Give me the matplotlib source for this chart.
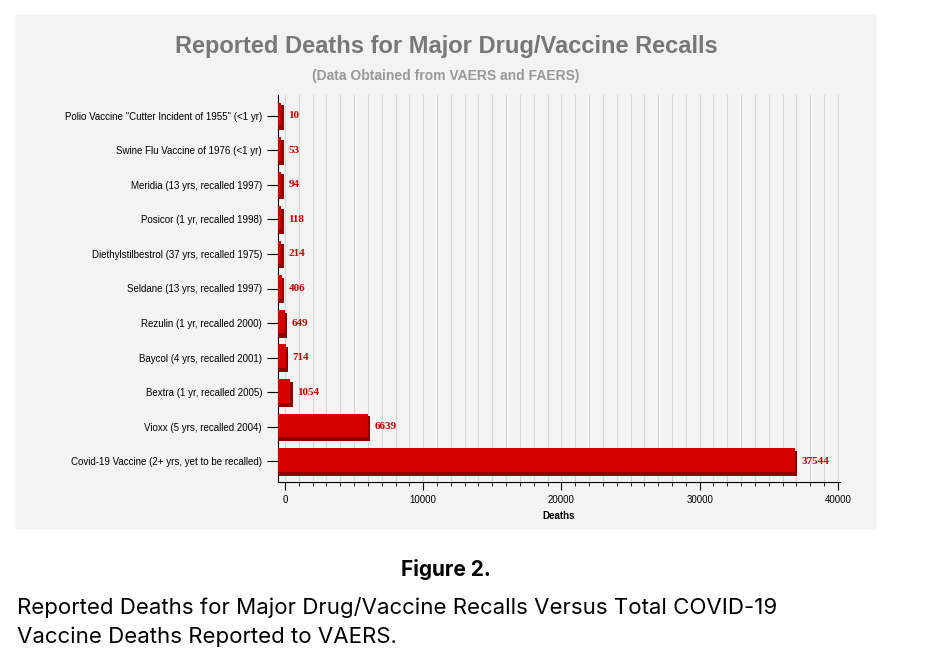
import matplotlib
matplotlib.use("Agg")
import matplotlib.pyplot as plt
import numpy as np

categories = ['Polio Vaccine "Cutter Incident of 1955" (<1 yr)',
              'Swine Flu Vaccine of 1976 (<1 yr)',
              'Meridia (13 yrs, recalled 1997)',
              'Posicor (1 yr, recalled 1998)',
              'Diethylstilbestrol (37 yrs, recalled 1975)',
              'Seldane (13 yrs, recalled 1997)',
              'Rezulin (1 yr, recalled 2000)',
              'Baycol (4 yrs, recalled 2001)',
              'Bextra (1 yr, recalled 2005)',
              'Vioxx (5 yrs, recalled 2004)',
              'Covid-19 Vaccine (2+ yrs, yet to be recalled)']
deaths = [10, 53, 94, 118, 214, 406, 649, 714, 1054, 6639, 37544]
xticks = [0, 10000, 20000, 30000, 40000]

plt.rcParams['font.family'] = 'Liberation Sans'
fig = plt.figure(figsize=(9.28, 6.5), dpi=100)
fig.patch.set_facecolor('white')
bg = plt.Rectangle((16/928, 1-528/650), (875-16)/928, (528-15)/650,
                   transform=fig.transFigure, color='#f3f3f3', zorder=-5)
fig.add_artist(bg)

ax = fig.add_axes([278/928, 1-482/650, (840-278)/928, (482-95)/650])
ax.set_zorder(2)
ax.set_facecolor('#f3f3f3')
y = np.arange(len(categories))[::-1]
minw = 400
w = [max(d, minw) for d in deaths]
ax.barh(y - 0.06, w, left=-500, height=0.72, color='#8e0000', zorder=3)
ax.barh(y + 0.04, [v - 150 for v in w], left=-500, height=0.68, color='#d40000', zorder=4)
for yi, d, wi in zip(y, deaths, w):
    ax.text(wi - 500 + 350, yi, str(d), color='#cc0000', fontsize=8, fontweight='bold',
            family='Liberation Serif', va='center', ha='left', zorder=5)
ax.set_yticks(y)
ax.set_yticklabels(categories, fontsize=7)
ax.set_ylim(-0.6, len(categories) - 0.4)
ax.set_xlim(-500, 40150)
ax.set_xticks(xticks)
ax.set_xticklabels([str(t) for t in xticks], fontsize=7)
ax.set_xticks(np.arange(0, 40001, 1000), minor=True)
ax.grid(True, axis='x', which='both', color='#d6d6d6', lw=0.8, zorder=0)
ax.set_axisbelow(True)
ax.tick_params(axis='x', which='major', length=6)
ax.tick_params(axis='x', which='minor', length=3)
ax.tick_params(axis='y', length=8)
for s in ['top', 'right']:
    ax.spines[s].set_visible(False)
ax.set_xlabel('Deaths', fontsize=7, fontweight='bold')

fig.text(446/928, 1-47/650, 'Reported Deaths for Major Drug/Vaccine Recalls',
         ha='center', va='center', fontsize=17, fontweight='bold', color='#777777')
fig.text(446/928, 1-76/650, '(Data Obtained from VAERS and FAERS)',
         ha='center', va='center', fontsize=10, fontweight='bold', color='#999999')
fig.text(446/928, 1-570/650, 'Figure 2.', ha='center', va='center',
         fontsize=15, fontweight='bold', family='Inter')
fig.text(17/928, 1-608/650, 'Reported Deaths for Major Drug/Vaccine Recalls Versus Total COVID-19',
         ha='left', va='center', fontsize=16, family='Inter')
fig.text(17/928, 1-637/650, 'Vaccine Deaths Reported to VAERS.',
         ha='left', va='center', fontsize=16, family='Inter')
fig.savefig('out.png', dpi=100)
